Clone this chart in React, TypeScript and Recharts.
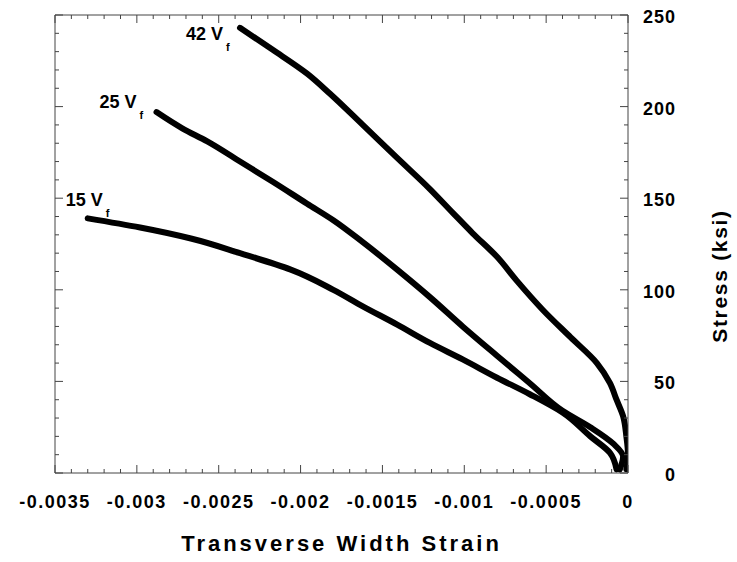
import React from 'react';
import { LineChart, Line, XAxis, YAxis, LabelList } from 'recharts';

const strain42 = [-0.00237, -0.00217, -0.00196, -0.00182, -0.00162, -0.00141, -0.00121, -0.00107, -0.00095, -0.0008, -0.00068, -0.00052, -0.00035, -0.00019, -0.00011, -0.00007, -0.00003, -0.00001, 0, -0.00001];
const stress42 = [243, 231, 218, 207, 190, 172, 155, 142, 131, 118, 105, 89, 74, 60, 49, 40, 31, 20, 10, 2];

const strain25 = [-0.00288, -0.00272, -0.00257, -0.00237, -0.00217, -0.00196, -0.0018, -0.00162, -0.00141, -0.00121, -0.00101, -0.0008, -0.0006, -0.0004, -0.00023, -0.00009, -0.00003, -0.00005];
const stress25 = [197, 188, 181, 170, 159, 147, 138, 126, 111, 96, 80, 64, 49, 34, 25, 16, 9, 2];

const strain15 = [-0.0033, -0.00298, -0.00267, -0.00237, -0.00206, -0.0018, -0.00162, -0.00141, -0.00121, -0.00101, -0.0008, -0.0006, -0.0004, -0.00023, -0.00011, -0.00007];
const stress15 = [139, 134, 128, 120, 111, 100, 91, 81, 71, 62, 52, 43, 33, 20, 11, 2];

const seriesNames = ['42', '25', '15'];

// ticks: minor every 0.0001 / 10 ksi, labelled every 0.0005 / 50 ksi
const xTicks: number[] = [];
for (let k = -35; k <= 0; k++) xTicks.push(k / 10000);
const yTicks: number[] = [];
for (let k = 0; k <= 25; k++) yTicks.push(k * 10);

const isMajorX = (v: number) => Math.round(v * 10000) % 5 === 0;
const isMajorY = (v: number) => Math.round(v) % 50 === 0;

const toRows = (xs: number[], ys: number[]) => xs.map((x, i) => ({ strain: x, stress: ys[i] }));
const curves = [toRows(strain42, stress42), toRows(strain25, stress25), toRows(strain15, stress15)];

const FONT = '"Liberation Sans", Arial, sans-serif';
const AXIS = '#444';
const MAJOR = 8;
const MINOR = 4;

// where each "NN Vf" tag sits relative to the first point of its curve
const tagOffset = [
  { dx: -17, dy: 12 },
  { dx: -20, dy: -4 },
  { dx: 15, dy: -12 },
];

const BottomTick = (props: any) => {
  const { x, y, payload } = props;
  const major = isMajorX(payload.value);
  return (
    <g>
      <line x1={x} x2={x} y1={y} y2={y - (major ? MAJOR : MINOR)} stroke={AXIS} />
      {major && (
        <text x={x} y={y + 35} textAnchor="middle" fontFamily={FONT} fontWeight="bold" fontSize={18} letterSpacing={1.5} fill="#000">
          {String(Math.round(payload.value * 10000) / 10000)}
        </text>
      )}
    </g>
  );
};

const TopTick = (props: any) => {
  const { x, y, payload } = props;
  const major = isMajorX(payload.value);
  return <line x1={x} x2={x} y1={y} y2={y + (major ? MAJOR : MINOR)} stroke={AXIS} />;
};

const LeftTick = (props: any) => {
  const { x, y, payload } = props;
  const major = isMajorY(payload.value);
  return <line x1={x} x2={x + (major ? MAJOR : MINOR)} y1={y} y2={y} stroke={AXIS} />;
};

const RightTick = (props: any) => {
  const { x, y, payload } = props;
  const major = isMajorY(payload.value);
  return (
    <g>
      <line x1={x} x2={x - (major ? MAJOR : MINOR)} y1={y} y2={y} stroke={AXIS} />
      {major && (
        <text x={x + 48} y={y + 8} textAnchor="end" fontFamily={FONT} fontWeight="bold" fontSize={18} letterSpacing={1} fill="#000">
          {payload.value}
        </text>
      )}
    </g>
  );
};

const makeTag = (idx: number) => (props: any) => {
  if (props.index !== 0) return null;
  const { dx, dy } = tagOffset[idx];
  const x = Number(props.x) + dx;
  const y = Number(props.y) + dy;
  return (
    <g>
      <text x={x} y={y} textAnchor="end" fontFamily={FONT} fontWeight="bold" fontSize={18} fill="#000">
        {seriesNames[idx] + ' V'}
      </text>
      <text x={x + 3} y={y + 11} fontFamily={FONT} fontWeight="bold" fontSize={11} fill="#000">
        f
      </text>
    </g>
  );
};

const XTitle = (props: any) => {
  const { viewBox } = props;
  return (
    <text
      x={viewBox.x + viewBox.width / 2}
      y={viewBox.y + 78}
      textAnchor="middle"
      fontFamily={FONT}
      fontWeight="bold"
      fontSize={22}
      letterSpacing={3}
      fill="#000"
    >
      Transverse Width Strain
    </text>
  );
};

const YTitle = (props: any) => {
  const { viewBox } = props;
  const cx = viewBox.x + 99;
  const cy = viewBox.y + viewBox.height / 2 + 32;
  return (
    <text
      x={cx}
      y={cy}
      transform={`rotate(-90, ${cx}, ${cy})`}
      textAnchor="middle"
      fontFamily={FONT}
      fontWeight="bold"
      fontSize={21}
      letterSpacing={1.7}
      fill="#000"
    >
      Stress (ksi)
    </text>
  );
};

export default function App() {
  return (
    <div style={{ position: 'absolute', left: 0, top: 0, width: 737, height: 562, background: '#fff' }}>
      <LineChart width={737} height={562} margin={{ top: 0, right: 0, bottom: 0, left: 0 }}>
        <XAxis
          xAxisId="bottom"
          dataKey="strain"
          type="number"
          orientation="bottom"
          domain={[-0.0035, 0]}
          ticks={xTicks}
          interval={0}
          allowDataOverflow
          height={89}
          tickSize={0}
          tickMargin={0}
          tickLine={false}
          axisLine={{ stroke: AXIS }}
          tick={<BottomTick />}
          label={<XTitle />}
        />
        <XAxis
          xAxisId="top"
          dataKey="strain"
          type="number"
          orientation="top"
          domain={[-0.0035, 0]}
          ticks={xTicks}
          interval={0}
          allowDataOverflow
          height={15}
          tickSize={0}
          tickMargin={0}
          tickLine={false}
          axisLine={{ stroke: AXIS }}
          tick={<TopTick />}
        />
        <YAxis
          yAxisId="left"
          type="number"
          orientation="left"
          domain={[0, 250]}
          ticks={yTicks}
          interval={0}
          allowDataOverflow
          width={55}
          tickSize={0}
          tickMargin={0}
          tickLine={false}
          axisLine={{ stroke: AXIS }}
          tick={<LeftTick />}
        />
        <YAxis
          yAxisId="right"
          type="number"
          orientation="right"
          domain={[0, 250]}
          ticks={yTicks}
          interval={0}
          allowDataOverflow
          width={109}
          tickSize={0}
          tickMargin={0}
          tickLine={false}
          axisLine={{ stroke: AXIS }}
          tick={<RightTick />}
          label={<YTitle />}
        />
        {curves.map((rows, i) => (
          <Line
            key={seriesNames[i]}
            xAxisId="bottom"
            yAxisId="right"
            data={rows}
            dataKey="stress"
            type="monotoneY"
            stroke="#000"
            strokeWidth={6}
            strokeLinejoin="round"
            strokeLinecap="round"
            dot={false}
            isAnimationActive={false}
          >
            <LabelList dataKey="stress" content={makeTag(i)} />
          </Line>
        ))}
      </LineChart>
    </div>
  );
}
